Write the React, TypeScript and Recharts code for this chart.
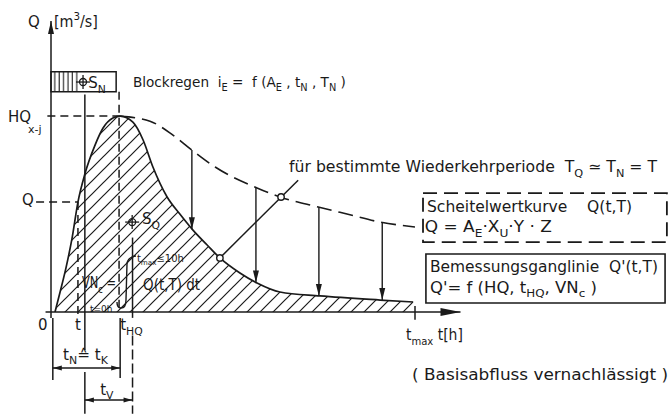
import { ComposedChart, Area, Line, XAxis, YAxis, ReferenceLine, ReferenceArea, ReferenceDot } from "recharts";

// Bemessungsganglinie (solid, hatched) – time in h, discharge in % of HQ
const hydroT = [0.11, 0.25, 0.41, 0.58, 0.74, 0.93, 1.21, 1.43, 1.7, 1.9, 2.25, 2.53, 2.8, 3.19, 3.54, 3.9, 4.29, 4.64, 5.19, 5.66, 6.29, 7.39, 9.04, 9.95];
const hydroQ = [0, 10.2, 22.4, 37.8, 56.1, 70.4, 85.2, 93.9, 99.0, 100, 96.9, 87.8, 74.0, 58.7, 50.0, 41.8, 34.2, 27.6, 19.9, 14.8, 10.2, 8.2, 6.1, 5.1];

// Scheitelwertkurve (dashed envelope)
const envT = [1.9, 2.72, 3.35, 3.87, 4.51, 5.66, 6.29, 7.34, 8.13, 9.04, 10.0];
const envQ = [100, 97.4, 90.3, 82.7, 74.0, 63.3, 58.7, 53.6, 50.0, 45.9, 43.4];

// arrows from envelope down to the design hydrograph
const arrowT = [3.87, 5.63, 7.36, 9.1];
const arrowFrom = [82.7, 63.6, 53.5, 45.6];
const arrowTo = [42.2, 15.0, 8.2, 6.1];

const HQ = 100;
const Qt = 56.1;
const tT = 0.74;
const tN = 1.87;
const tHQ = 2.24;
const tS = 0.93;
const tMax = 10;
const rainTop = 122.6;
const rainBottom = 112.4;
const rainEnd = 1.79;

// text notes: t, q, text (with _{sub} / ^{sup}), optional width
const notes = [
  { t: -0.63, q: 145.4, s: "Q" },
  { t: 0.08, q: 145.4, s: "[m^{3}/s]", w: 44 },
  { t: 2.25, q: 114.8, s: "Blockregen  i_{E} =  f (A_{E} , t_{N} , T_{N} )", w: 213, size: 14 },
  { t: -1.18, q: 96.9, s: "HQ" },
  { t: -0.63, q: 91.3, s: "x-j", size: 11 },
  { t: -0.8, q: 54.6, s: "Q" },
  { t: -0.36, q: -9.2, s: "0" },
  { t: 0.66, q: -9.2, s: "t" },
  { t: 1.9, q: -9.2, s: "t_{HQ}" },
  { t: 0.33, q: -24.5, s: "t_{N}≙ t_{K}", w: 45 },
  { t: 1.35, q: -42.3, s: "t_{V}" },
  { t: 0.85, q: 12.2, s: "VN_{c} =", w: 34 },
  { t: 1.07, q: -0.2, s: "t=0h", size: 9 },
  { t: 2.36, q: 25.5, s: "t_{max}≤10h", size: 10 },
  { t: 2.53, q: 11.2, s: "Q(t,T) dt", w: 57 },
  { t: 2.5, q: 44.9, s: "S_{Q}" },
  { t: 1.02, q: 114.3, s: "S_{N}" },
  { t: 6.54, q: 71.4, s: "für bestimmte Wiederkehrperiode  T_{Q} ≃ T_{N} = T", w: 368 },
  { t: 10.33, q: 51.0, s: "Scheitelwertkurve    Q(t,T)", w: 205 },
  { t: 10.27, q: 40.8, s: "Q = A_{E}·X_{U}·Y · Z", w: 127 },
  { t: 10.41, q: 20.4, s: "Bemessungsganglinie  Q'(t,T)", w: 228 },
  { t: 10.41, q: 9.7, s: "Q'= f (HQ, t_{HQ}, VN_{c} )", w: 167 },
  { t: 9.75, q: -14.3, s: "t_{max} t[h]", w: 57 },
  { t: 9.92, q: -34.7, s: "( Basisabfluss vernachlässigt )", w: 256 },
];

const hydro = hydroT.map((t, i) => ({ t, q: hydroQ[i] }));
const envelope = envT.map((t, i) => ({ t, q: envQ[i] }));

const INK = "#1a1a1a";
const FONT = "'DejaVu Sans', sans-serif";

type Seg = { s: string; k?: "sub" | "sup" };

function parse(s: string): Seg[] {
  const out: Seg[] = [];
  const re = /([_^])\{([^}]*)\}/g;
  let last = 0;
  let m: RegExpExecArray | null;
  while ((m = re.exec(s))) {
    if (m.index > last) out.push({ s: s.slice(last, m.index) });
    out.push({ s: m[2], k: m[1] === "_" ? "sub" : "sup" });
    last = re.lastIndex;
  }
  if (last < s.length) out.push({ s: s.slice(last) });
  return out;
}

function rich(segs: Seg[], size: number) {
  let shift = 0;
  return segs.map((g, i) => {
    const target = g.k === "sub" ? size * 0.3 : g.k === "sup" ? -size * 0.45 : 0;
    const dy = target - shift;
    shift = target;
    return (
      <tspan key={i} dy={dy} fontSize={g.k ? size * 0.72 : size}>
        {g.s}
      </tspan>
    );
  });
}

// line with filled arrow head(s)
const arrow = (len: number, half: number, both = false, width = 1.5) => (p: any) => {
  const { x1, y1, x2, y2 } = p;
  const a = Math.atan2(y2 - y1, x2 - x1);
  const head = (x: number, y: number, ang: number) => {
    const bx = x - len * Math.cos(ang);
    const by = y - len * Math.sin(ang);
    const nx = -Math.sin(ang) * half;
    const ny = Math.cos(ang) * half;
    return `${x},${y} ${bx + nx},${by + ny} ${bx - nx},${by - ny}`;
  };
  return (
    <g>
      <line x1={x1} y1={y1} x2={x2} y2={y2} stroke={INK} strokeWidth={width} />
      <polygon points={head(x2, y2, a)} fill={INK} />
      {both && <polygon points={head(x1, y1, a + Math.PI)} fill={INK} />}
    </g>
  );
};

const centroid = (p: any) => (
  <g stroke={INK} strokeWidth={1.3} fill="none">
    <circle cx={p.cx} cy={p.cy} r={3.5} />
    <line x1={p.cx - 7} y1={p.cy} x2={p.cx + 7} y2={p.cy} />
    <line x1={p.cx} y1={p.cy - 7} x2={p.cx} y2={p.cy + 7} />
  </g>
);

const ring = (p: any) => <circle cx={p.cx} cy={p.cy} r={3.2} fill="#fff" stroke={INK} strokeWidth={1.4} />;

// hand-drawn integral sign
const integral = (p: any) => (
  <path transform={`translate(${p.cx},${p.cy})`} fill="none" stroke={INK} strokeWidth={1.4}
    d="M8,-34 C4,-34 -1,-31 -1,-26 L-2,10 C-2,16 -4,18 -7,18 C-10,18 -11,15 -11,12" />
);

export default function App() {
  const solid = { stroke: INK, strokeWidth: 1.5, ifOverflow: "visible" as const };
  const dashed = { ...solid, strokeDasharray: "8 5" };

  return (
    <div style={{ position: "absolute", left: 0, top: 0, width: 671, height: 414, background: "#fff" }}>
      <ComposedChart width={671} height={414} margin={{ top: 26, right: 210.5, bottom: 102, left: 51 }}>
        <defs>
          <pattern id="hatch" patternUnits="userSpaceOnUse" width="13" height="13">
            <path d="M0,13 L13,0 M-3,3 L3,-3 M10,16 L16,10" stroke={INK} strokeWidth="1.2" />
          </pattern>
          <pattern id="vhatch" patternUnits="userSpaceOnUse" width="4.4" height="10">
            <path d="M2,0 L2,10" stroke={INK} strokeWidth="1.1" />
          </pattern>
        </defs>

        <XAxis type="number" dataKey="t" domain={[0, 11.25]} hide allowDataOverflow />
        <YAxis type="number" dataKey="q" domain={[0, 146]} hide allowDataOverflow />

        <Area data={hydro} dataKey="q" type="monotone" baseValue={0} stroke={INK} strokeWidth={1.7}
          fill="url(#hatch)" fillOpacity={1} dot={false} activeDot={false} isAnimationActive={false} />
        <Line data={envelope} dataKey="q" type="monotone" stroke={INK} strokeWidth={1.6}
          strokeDasharray="15 7" dot={false} activeDot={false} isAnimationActive={false} />

        {/* Blockregen */}
        <ReferenceArea x1={0} x2={0.78} y1={rainBottom} y2={rainTop} fill="url(#vhatch)" fillOpacity={1} stroke="none" ifOverflow="visible" />
        <ReferenceArea x1={0} x2={rainEnd} y1={rainBottom} y2={rainTop} fill="none" stroke={INK} strokeWidth={1.5} ifOverflow="visible" />

        {/* axes */}
        <ReferenceLine segment={[{ x: 0, y: -3 }, { x: 0, y: 148.5 }]} ifOverflow="visible" shape={arrow(13, 3)} />
        <ReferenceLine segment={[{ x: -0.15, y: 0 }, { x: 11.25, y: 0 }]} ifOverflow="visible" shape={arrow(20, 4)} />
        <ReferenceLine segment={[{ x: tMax, y: 3 }, { x: tMax, y: -4 }]} {...solid} />

        {/* guides */}
        <ReferenceLine segment={[{ x: -0.1, y: HQ }, { x: 1.9, y: HQ }]} {...dashed} />
        <ReferenceLine segment={[{ x: -0.41, y: Qt }, { x: tT, y: Qt }]} {...dashed} />
        <ReferenceLine segment={[{ x: tT, y: Qt }, { x: tT, y: -3 }]} {...dashed} />
        <ReferenceLine segment={[{ x: tN, y: rainBottom }, { x: tN, y: 0 }]} {...dashed} />
        <ReferenceLine segment={[{ x: tS, y: 111 }, { x: tS, y: -19.4 }]} {...solid} />
        <ReferenceLine segment={[{ x: tS, y: -30.6 }, { x: tS, y: -52 }]} {...solid} />
        <ReferenceLine segment={[{ x: tHQ, y: 38 }, { x: tHQ, y: -3 }]} {...solid} />
        <ReferenceLine segment={[{ x: tHQ, y: -12 }, { x: tHQ, y: -52 }]} {...solid} strokeDasharray="10 4" />
        <ReferenceLine segment={[{ x: 0.05, y: -3 }, { x: 0.05, y: -34.7 }]} {...solid} />
        <ReferenceLine segment={[{ x: 1.9, y: -3 }, { x: 1.9, y: -33.7 }]} {...solid} />

        {/* dimension arrows */}
        <ReferenceLine segment={[{ x: 0.05, y: -28.6 }, { x: 1.9, y: -28.6 }]} ifOverflow="visible" shape={arrow(9, 2.5, true, 1.4)} />
        <ReferenceLine segment={[{ x: tS, y: -44.9 }, { x: tHQ, y: -44.9 }]} ifOverflow="visible" shape={arrow(9, 2.5, true, 1.4)} />

        {/* envelope -> hydrograph arrows */}
        {arrowT.map((t, i) => (
          <ReferenceLine key={`a${i}`} segment={[{ x: t, y: arrowFrom[i] }, { x: t, y: arrowTo[i] }]}
            ifOverflow="visible" shape={arrow(12, 3, false, 1.4)} />
        ))}

        {/* pointer line */}
        <ReferenceLine segment={[{ x: 4.64, y: 27.6 }, { x: 6.79, y: 67.3 }]} {...solid} />
        <ReferenceDot x={4.64} y={27.6} r={3} ifOverflow="visible" shape={ring} />
        <ReferenceDot x={6.32} y={58.7} r={3} ifOverflow="visible" shape={ring} />

        {/* centroids */}
        <ReferenceDot x={0.88} y={117.4} r={3} ifOverflow="visible" shape={centroid} />
        <ReferenceDot x={2.23} y={45.9} r={3} ifOverflow="visible" shape={centroid} />

        {/* integral sign of VN_c */}
        <ReferenceDot x={2.115} y={11.2} r={0} ifOverflow="visible" shape={integral} />

        {/* boxes */}
        <ReferenceArea x1={10.22} x2={16.92} y1={35.7} y2={60.7} fill="none" fillOpacity={0} stroke={INK}
          strokeWidth={1.8} strokeDasharray="14 7" ifOverflow="visible" />
        <ReferenceArea x1={10.3} x2={16.87} y1={4.6} y2={29.6} fill="none" fillOpacity={0} stroke={INK}
          strokeWidth={1.6} ifOverflow="visible" />

        {notes.map((n, i) => {
          const size = n.size ?? 15;
          return (
            <ReferenceDot key={`n${i}`} x={n.t} y={n.q} r={0} ifOverflow="visible"
              shape={(p: any) => (
                <text x={p.cx} y={p.cy} fontFamily={FONT} fontSize={size} fill={INK}
                  textLength={n.w} lengthAdjust={n.w ? "spacingAndGlyphs" : undefined}
                  style={{ whiteSpace: "pre" }}>
                  {rich(parse(n.s), size)}
                </text>
              )} />
          );
        })}
      </ComposedChart>
    </div>
  );
}
